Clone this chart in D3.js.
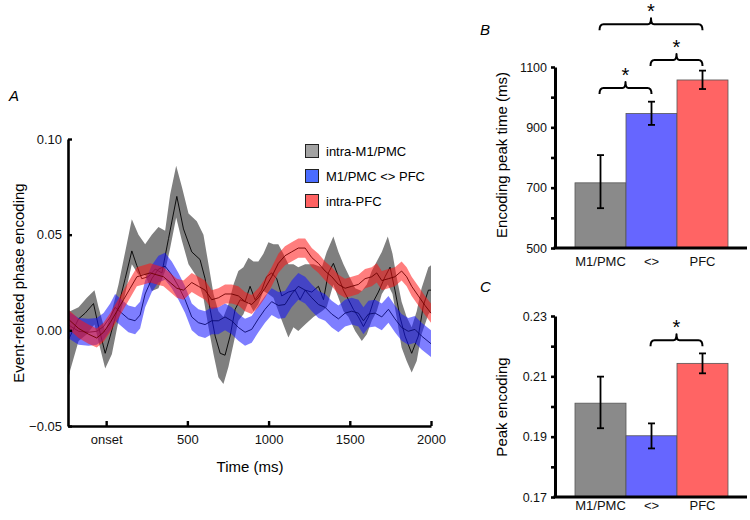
<!DOCTYPE html>
<html><head><meta charset="utf-8">
<script src="https://cdn.jsdelivr.net/npm/d3@7"></script>
<style>
body{margin:0;background:#fff}
svg{font-family:"Liberation Sans",Arial,Helvetica,sans-serif}
</style>
</head><body>
<svg id="c" width="750" height="520"></svg>
<script>
// ---------- Panel A data (time in ms, values = event-related phase encoding) ----------
const grayT = [-233,-170,-129,-78,-47,-6,25,76,117,158,188,219,260,302,343,384,435,476,527,578,609,640,671,702,732,763,794,825,855,886,917,958,988,1019,1050,1081,1122,1163,1194,1225,1266,1307,1338,1368,1399,1430,1461,1492,1522,1553,1584,1615,1645,1676,1717,1748,1778,1809,1840,1881,1922,1953,1984,2000];
const grayV = [-0.005,0.006,0.009,0.014,0.002,-0.012,-0.003,0.013,0.027,0.0415,0.034,0.027,0.028,0.032,0.030,0.048,0.070,0.053,0.041,0.037,0.027,0.011,-0.003,-0.012,-0.013,-0.003,0.011,0.016,0.015,0.023,0.016,0.021,0.028,0.030,0.027,0.018,0.020,0.021,0.016,0.021,0.020,0.023,0.016,0.030,0.035,0.028,0.021,0.016,0.011,0.007,0.002,0.007,0.015,0.020,0.028,0.033,0.021,0.007,-0.003,-0.012,-0.003,0.013,0.021,0.021];
// gray confidence band, upper and lower edges
const grayBandT = [-235,-222,-170,-119,-72,-47,-6,35,76,117,158,199,240,281,322,363,394,431,466,507,558,599,630,661,691,722,753,784,814,845,876,907,937,968,999,1030,1060,1091,1122,1153,1183,1225,1276,1328,1358,1399,1430,1461,1492,1533,1574,1605,1635,1666,1697,1734,1763,1788,1819,1850,1881,1912,1942,1984,2000];
const grayHi = [0.011,0.010,0.012,0.017,0.021,0.012,-0.0005,0.010,0.024,0.041,0.058,0.050,0.045,0.050,0.054,0.052,0.071,0.086,0.075,0.061,0.057,0.050,0.0345,0.019,0.010,0.007,0.0136,0.024,0.031,0.033,0.038,0.036,0.036,0.040,0.046,0.045,0.045,0.040,0.0345,0.0345,0.033,0.0345,0.0345,0.033,0.041,0.049,0.041,0.0345,0.029,0.022,0.0205,0.024,0.031,0.036,0.041,0.049,0.040,0.028,0.015,0.007,0.0016,0.010,0.022,0.033,0.034];
const grayLo = [-0.026,-0.021,-0.0056,-0.002,0.003,-0.006,-0.020,-0.0125,0.005,0.019,0.0345,0.029,0.029,0.0205,0.022,0.031,0.043,0.059,0.047,0.0345,0.028,0.017,0.0016,-0.0125,-0.0245,-0.028,-0.019,-0.007,0.005,0.0084,0.015,0.010,0.0136,0.0205,0.019,0.017,0.010,0.003,-0.0037,0.0016,-0.0003,0.003,0.007,0.010,0.012,0.024,0.017,0.010,0.007,-0.0003,-0.0056,-0.002,0.005,0.010,0.019,0.024,0.019,0.007,-0.009,-0.016,-0.022,-0.016,-0.002,0.0084,0.010];

const blueT = [-235,-170,-109,-58,-16,25,55,96,137,178,209,240,281,322,363,404,445,486,527,568,609,650,691,732,773,814,855,896,937,978,1019,1060,1101,1142,1183,1225,1266,1307,1348,1389,1430,1471,1512,1553,1584,1615,1656,1697,1738,1778,1819,1860,1901,1942,2000];
const blueV = [0.003,-0.0005,-0.001,-0.0005,0.002,0.007,0.012,0.009,0.006,0.005,0.008,0.019,0.027,0.032,0.0335,0.029,0.023,0.016,0.007,0.004,0.003,0.005,0.005,0.007,0.005,0.0015,-0.001,0.0005,0.006,0.011,0.015,0.013,0.0135,0.019,0.023,0.021,0.017,0.0135,0.012,0.0085,0.006,0.009,0.010,0.009,0.005,0.0085,0.009,0.007,0.011,0.006,0.0015,-0.0005,0.0005,-0.003,-0.007];
const blueE = 0.007;

const redT = [-235,-170,-109,-58,-16,25,66,107,148,189,230,271,312,353,394,435,476,527,568,609,650,691,732,773,814,855,896,937,978,1019,1060,1101,1142,1183,1225,1266,1307,1348,1389,1430,1471,1512,1553,1594,1635,1666,1697,1738,1778,1819,1850,1881,1922,1963,2000];
const redV = [0.006,0.001,-0.002,-0.004,-0.001,0.004,0.010,0.016,0.022,0.028,0.029,0.030,0.029,0.028,0.025,0.022,0.021,0.025,0.023,0.021,0.016,0.017,0.019,0.019,0.018,0.015,0.0135,0.017,0.022,0.028,0.035,0.039,0.041,0.043,0.043,0.038,0.035,0.031,0.028,0.024,0.022,0.023,0.024,0.027,0.028,0.030,0.026,0.027,0.028,0.031,0.028,0.023,0.018,0.013,0.009];
const redE = 0.005;

const seriesNames = ["intra-M1/PMC", "M1/PMC <> PFC", "intra-PFC"];
const xTickVals = [0, 500, 1000, 1500, 2000];
const xTickText = ["onset", "500", "1000", "1500", "2000"];
const yTickValsA = [-0.05, 0.00, 0.05, 0.10];

// ---------- Panel B / C data ----------
const catLabels = ["M1/PMC", "<>", "PFC"];
const peakTime = [716, 946, 1057];
const peakTimeLo = [632, 908, 1027];
const peakTimeHi = [808, 985, 1088];
const peakEnc = [0.2011, 0.1903, 0.2143];
const peakEncLo = [0.1928, 0.1861, 0.2110];
const peakEncHi = [0.2099, 0.1944, 0.2176];
const yTicksB = [500, 600, 700, 800, 900, 1000, 1100];
const yLabelsB = [500, 700, 900, 1100];
const yTicksC = [0.17, 0.18, 0.19, 0.20, 0.21, 0.22, 0.23];
const yLabelsC = [0.17, 0.19, 0.21, 0.23];
const sigB = [[0, 1, 1030], [1, 2, 1123], [0, 2, 1242]];
const sigC = [[1, 2, 0.222]];

const barColors = ["#8a8a8a", "#6666ff", "#ff6464"];
const legendColors = ["#a3a3a3", "#4a6cff", "#ff6262"];

const svg = d3.select("#c");

// ================= Panel A =================
const xA = d3.scaleLinear().domain([-235, 2000]).range([68, 431]);
const yA = d3.scaleLinear().domain([-0.05, 0.10]).range([426, 139]);

function pts(T, V, E) { return T.map((t, i) => ({t, v: V[i], e: E})); }
const area = d3.area().x(d => xA(d.t)).y0(d => yA(d.v - d.e)).y1(d => yA(d.v + d.e));
const line = d3.line().x(d => xA(d.t)).y(d => yA(d.v));
const grayArea = d3.area().x(d => xA(d.t)).y0(d => yA(d.lo)).y1(d => yA(d.hi));

const gBand = grayBandT.map((t, i) => ({t, hi: grayHi[i], lo: grayLo[i]}));
const gS = pts(grayT, grayV, 0), bS = pts(blueT, blueV, blueE), rS = pts(redT, redV, redE);
const gA = svg.append("g");
gA.append("path").attr("d", grayArea(gBand)).attr("fill", "#7f7f7f");
gA.append("path").attr("d", line(gS)).attr("fill", "none").attr("stroke", "#000").attr("stroke-width", 0.9);
gA.append("path").attr("d", area(bS)).attr("fill", "rgba(20,20,255,0.55)");
gA.append("path").attr("d", line(bS)).attr("fill", "none").attr("stroke", "#0a0a70").attr("stroke-width", 0.9);
gA.append("path").attr("d", area(rS)).attr("fill", "rgba(255,20,20,0.55)");
gA.append("path").attr("d", line(rS)).attr("fill", "none").attr("stroke", "#700000").attr("stroke-width", 0.9);

const axYA = svg.append("g").attr("transform", "translate(68,0)")
  .call(d3.axisLeft(yA).tickValues(yTickValsA).tickFormat(d3.format(".2f")).tickSizeInner(-4).tickSizeOuter(0).tickPadding(6));
const axXA = svg.append("g").attr("transform", "translate(0,426)")
  .call(d3.axisBottom(xA).tickValues(xTickVals).tickFormat((d, i) => xTickText[i]).tickSizeInner(-5).tickSizeOuter(0).tickPadding(9));
[axYA, axXA].forEach(a => {
  a.select(".domain").attr("stroke-width", 2.6);
  a.selectAll(".tick line").attr("stroke-width", 2.4);
  a.selectAll("text").attr("font-size", 13).attr("fill", "#111");
});

svg.append("text").attr("transform", "translate(24,283) rotate(-90)").attr("text-anchor", "middle")
  .attr("font-size", 15).text("Event-related phase encoding");
svg.append("text").attr("x", 250).attr("y", 472).attr("text-anchor", "middle").attr("font-size", 15).text("Time (ms)");
svg.append("text").attr("x", 9).attr("y", 101).attr("font-size", 15).attr("font-style", "italic").text("A");

// legend
const leg = svg.append("g");
seriesNames.forEach((n, i) => {
  leg.append("rect").attr("x", 305.5).attr("y", 144.5 + i * 25).attr("width", 13).attr("height", 13)
    .attr("fill", legendColors[i]).attr("stroke", "#222").attr("stroke-width", 1);
  leg.append("text").attr("x", 326).attr("y", 155.5 + i * 25).attr("font-size", 13).text(n);
});

// ================= Bar panels =================
const xB = d3.scaleBand().domain(catLabels).range([575, 728]).padding(0);

function barPanel(y, vals, lo, hi, ticks, labelTicks, fmt, xAxisY, yTitle, titleY, letter, letterY, sigs) {
  const g = svg.append("g");
  g.selectAll("rect.bar").data(vals).join("rect").attr("class", "bar")
    .attr("x", (d, i) => xB(catLabels[i])).attr("width", xB.bandwidth())
    .attr("y", d => y(d)).attr("height", d => y.range()[0] - y(d))
    .attr("fill", (d, i) => barColors[i]).attr("stroke", "#555").attr("stroke-width", 0.8);
  vals.forEach((d, i) => {
    const cx = xB(catLabels[i]) + xB.bandwidth() / 2;
    const eg = g.append("g").attr("stroke", "#000").attr("stroke-width", 1.8);
    eg.append("line").attr("x1", cx).attr("x2", cx).attr("y1", y(lo[i])).attr("y2", y(hi[i]));
    eg.append("line").attr("x1", cx - 3.5).attr("x2", cx + 3.5).attr("y1", y(lo[i])).attr("y2", y(lo[i]));
    eg.append("line").attr("x1", cx - 3.5).attr("x2", cx + 3.5).attr("y1", y(hi[i])).attr("y2", y(hi[i]));
  });
  const ay = g.append("g").attr("transform", "translate(555,0)")
    .call(d3.axisLeft(y).tickValues(ticks).tickFormat(d => labelTicks.some(l => Math.abs(l - d) < 1e-9) ? fmt(d) : "")
      .tickSizeInner(4).tickSizeOuter(0).tickPadding(4));
  ay.select(".domain").attr("stroke-width", 3);
  ay.selectAll(".tick line").attr("stroke-width", 2.6);
  ay.selectAll("text").attr("font-size", 12.5).attr("fill", "#111");
  g.append("line").attr("x1", 553.5).attr("x2", 747).attr("y1", y.range()[0]).attr("y2", y.range()[0])
    .attr("stroke", "#000").attr("stroke-width", 3);
  const ax = g.append("g").attr("transform", `translate(0,${y.range()[0]})`)
    .call(d3.axisBottom(xB).tickSize(0).tickPadding(xAxisY));
  ax.select(".domain").remove();
  ax.selectAll("text").attr("font-size", 13).attr("fill", "#111");
  g.append("text").attr("transform", `translate(507,${titleY}) rotate(-90)`).attr("text-anchor", "middle")
    .attr("font-size", 15).text(yTitle);
  g.append("text").attr("x", 480).attr("y", letterY).attr("font-size", 15).attr("font-style", "italic").text(letter);
  sigs.forEach(s => {
    const x1 = xB(catLabels[s[0]]) + xB.bandwidth() / 2 - 1;
    const x2 = xB(catLabels[s[1]]) + xB.bandwidth() / 2;
    const xm = (x1 + x2) / 2, yy = y(s[2]);
    g.append("path")
      .attr("d", `M${x1},${yy + 6} Q${x1},${yy} ${x1 + 4},${yy} L${xm - 3},${yy} Q${xm},${yy} ${xm},${yy - 6} Q${xm},${yy} ${xm + 3},${yy} L${x2 - 4},${yy} Q${x2},${yy} ${x2},${yy + 6}`)
      .attr("fill", "none").attr("stroke", "#000").attr("stroke-width", 2).attr("stroke-linejoin", "round");
    g.append("text").attr("x", xm).attr("y", yy - 18 + 11.5).attr("text-anchor", "middle")
      .attr("font-size", 20).text("*");
  });
}

const yB = d3.scaleLinear().domain([500, 1100]).range([248, 67]);
barPanel(yB, peakTime, peakTimeLo, peakTimeHi, yTicksB, yLabelsB, d3.format("d"), 9,
  "Encoding peak time (ms)", 155, "B", 35, sigB);

const yC = d3.scaleLinear().domain([0.17, 0.23]).range([497, 316]);
barPanel(yC, peakEnc, peakEncLo, peakEncHi, yTicksC, yLabelsC, d3.format(".2f"), 4,
  "Peak encoding", 407, "C", 292, sigC);
</script>
</body></html>
